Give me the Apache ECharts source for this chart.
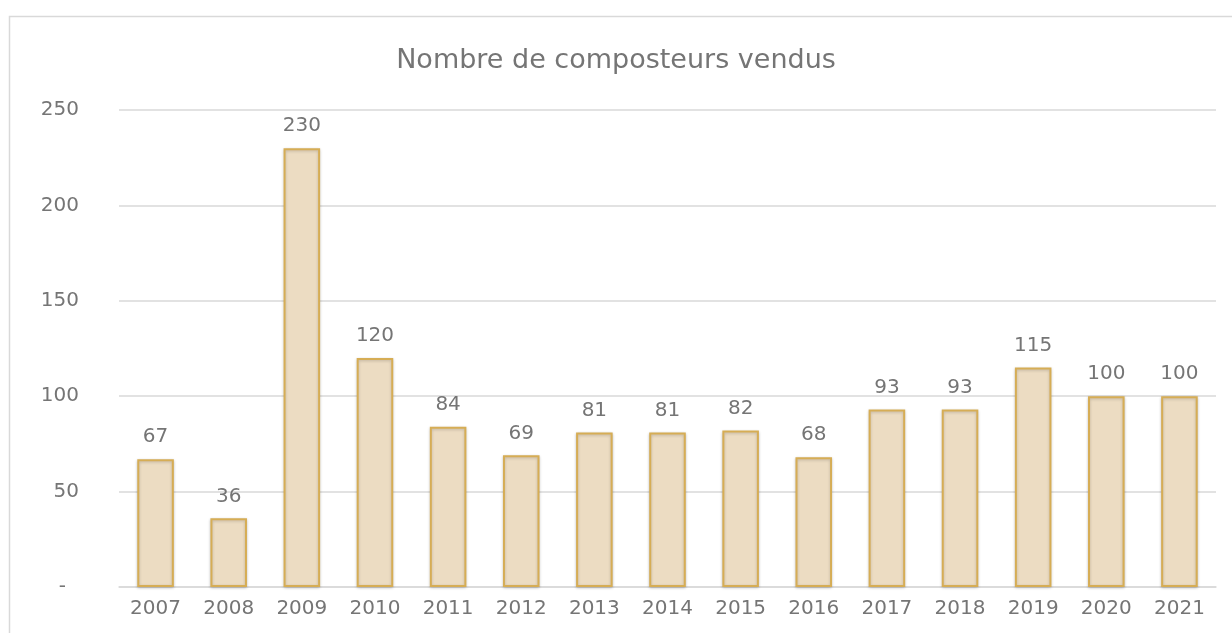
<!DOCTYPE html>
<html><head><meta charset="utf-8">
<script src="https://cdn.jsdelivr.net/npm/echarts@6/dist/echarts.min.js"></script>
<style>html,body{margin:0;padding:0;background:#fff;}#c{width:1232px;height:633px;}</style>
</head><body><div id="c"></div>
<script>
const years = ['2007','2008','2009','2010','2011','2012','2013','2014','2015','2016','2017','2018','2019','2020','2021'];
const sold = [67,36,230,120,84,69,81,81,82,68,93,93,115,100,100];
const yTicks = [0,50,100,150,200,250];

const chart = echarts.init(document.getElementById('c'));
const font = '"DejaVu Sans", sans-serif';
chart.setOption({
  animation:false,
  backgroundColor:'#fff',
  graphic:[{type:'rect',shape:{x:9.5,y:16.5,width:1300,height:700},style:{fill:'none',stroke:'#d9d9d9',lineWidth:1.5},silent:true}],
  title:{text:'Nombre de composteurs vendus',left:'center',top:42,
    textStyle:{fontFamily:font,fontSize:27,fontWeight:'normal',color:'#757575'}},
  grid:{left:119,right:16,top:110,bottom:46,containLabel:false},
  xAxis:{type:'category',data:years,
    axisLine:{lineStyle:{color:'#d9d9d9',width:1.5}},axisTick:{show:false},
    axisLabel:{fontFamily:font,fontSize:20,color:'#757575',margin:12}},
  yAxis:{type:'value',min:yTicks[0],max:yTicks[yTicks.length-1],interval:50,
    axisLine:{show:false},axisTick:{show:false},
    splitLine:{lineStyle:{color:'#d9d9d9',width:1.5}},
    axisLabel:{fontFamily:font,fontSize:20,color:'#757575',margin:40,
      formatter:v=> v===0 ? '{d|-}' : String(v),
      rich:{d:{fontFamily:font,fontSize:20,color:'#757575',padding:[0,13,0,0]}}}},
  series:[{type:'bar',data:sold,barWidth:'50%',
    itemStyle:{color:'#ecdcc2',borderColor:'#d6ad55',borderWidth:2,
      shadowColor:'rgba(0,0,0,0.2)',shadowBlur:3,shadowOffsetX:0,shadowOffsetY:1},
    label:{show:true,position:'top',distance:12,fontFamily:font,fontSize:20,color:'#757575'}}]
});
</script></body></html>
